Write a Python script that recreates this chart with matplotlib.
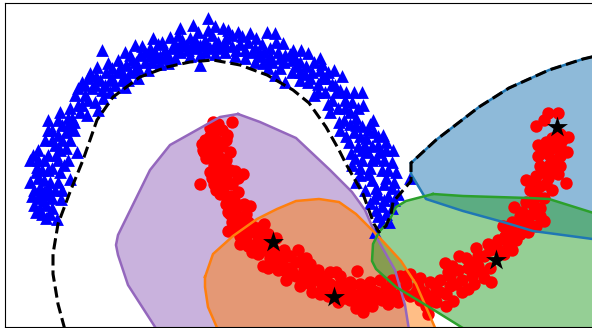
import numpy as np
import matplotlib
matplotlib.use("Agg")
import matplotlib.pyplot as plt

blue_points = [
    (102,50),(60,112),(48,120),(33,155),(77,152),(90,73),(82,82),(97,67),(108,63),(125,52),
    (135,45),(153,38),(170,37),(180,28),(193,25),(208,18),(223,28),(238,32),(250,33),(267,32),
    (275,33),(283,43),(293,50),(200,65),(168,63),(138,78),(125,87),(103,98),(87,115),(70,140),
    (285,82),(263,63),(301,50),(308,53),(320,58),(334,70),(314,95),(354,92),(362,92),(339,122),
    (363,105),(373,120),(383,135),(393,150),(351,153),(349,142),(32,196),(42,214),(57,219),(61,199),
    (70,179),(37,167),(40,187),(43,201),(410,178),(375,232),(389,222),
    (52,130),(62,125),(72,118),(78,105),(70,108),(85,95),(92,88),(100,80),(75,95),(66,132),
    (55,145),(45,140),(38,150),(48,155),(60,150),(68,160),(42,170),(52,168),(30,182),(38,178),
    (50,182),(60,172),(34,205),(48,195),(52,208),(40,210),(46,218),(55,190),(44,160),(58,135),
    (82,105),(95,102),(105,85),(112,78),(118,72),(126,65),(118,60),(132,60),(140,55),(130,72),
    (145,62),(150,48),(158,44),(165,50),(175,44),(182,40),(190,38),(198,32),(205,40),(212,35),
    (218,42),(226,38),(232,46),(240,44),(248,42),(255,48),(262,44),(270,48),(278,52),(285,55),
    (292,60),(300,62),(306,66),(312,72),(320,70),(326,78),(332,84),(340,90),(180,52),(188,50),
    (195,48),(205,52),(215,54),(225,52),(235,56),(245,58),(155,58),(160,64),(175,58),(148,70),
    (255,62),(272,62),(280,68),(292,72),(300,80),(308,82),(318,84),(325,92),(332,100),(338,108),
    (345,100),(350,112),(344,120),(356,118),(362,126),(354,132),(366,138),(374,132),(378,145),(358,146),
    (368,152),(376,158),(386,150),(392,162),(362,160),(352,165),(370,168),(382,170),(396,172),(360,175),
    (372,180),(384,184),(394,182),(365,190),(378,194),(388,196),(398,194),(370,203),(382,206),(392,208),
    (378,216),(386,214),(110,92),(98,110),(124,76),(138,68),(155,52),(260,54),(270,56),(215,26),
    (200,45),(190,56),(232,35),(342,76),(330,112),(346,136),
    (48,130),(58,120),(68,125),(74,130),(62,140),(52,140),(38,160),(58,160),(48,170),(64,165),
    (36,172),(44,180),(58,182),(34,190),(44,192),(52,198),(38,198),(46,205),(36,212),(50,214),
    (30,160),(66,148),(74,122),(80,112),(88,100),(68,118),(78,88),(88,78),(96,76),(106,72),
    (112,68),(102,90),(115,85),(122,80),(130,55),(128,80),(142,46),(136,62),(145,52),(152,62),
    (162,42),(168,55),(172,48),(160,56),(178,35),(186,45),(195,40),(200,55),(208,30),(210,48),
    (220,48),(228,30),(236,50),(242,36),(252,52),(256,38),(264,52),(276,42),(284,62),(290,54),
    (296,66),(268,68),(275,75),(305,74),(314,62),(322,64),(328,72),(336,92),(346,92),(352,102),
    (358,108),(328,104),(340,130),(350,124),(360,136),(370,124),(378,136),(386,142),(372,146),(355,158),
    (365,146),(380,152),(388,170),(356,182),(368,174),(376,188),(392,188),(360,168),(374,198),(384,200),
    (394,200),(386,178),(376,210),(382,222),
    (120,68),(135,70),(150,56),(165,58),(180,46),(192,44),(205,46),(215,44),(225,44),(245,50),
    (258,56),(268,60),(280,58),(295,58),(310,78),(322,78),(300,72),(318,92),(335,85),(345,108),
    (356,125),(368,130),(384,160),(372,160),(362,150),(70,128),(56,155),(62,190),(48,188),(40,195),
    (95,85),(110,80),(85,85),
]

red_points = [
    (213,122),(232,122),(227,135),(230,152),(205,140),(203,150),(214,130),(222,130),(216,140),(208,146),
    (218,148),(212,155),(220,158),(206,158),(214,165),(222,168),(210,172),(218,178),(226,176),(235,171),
    (243,174),(200,184),(214,184),(224,186),(232,184),(220,194),(230,196),(238,192),(226,204),(236,208),
    (230,214),(240,218),(232,222),(250,206),(246,214),(228,231),(238,226),(248,222),(240,236),(250,232),
    (258,228),(264,224),(246,240),(256,244),(268,234),(276,238),(252,252),(264,250),(274,250),(284,250),
    (263,266),(272,262),(282,260),(290,256),(278,270),(288,268),(296,262),(286,280),(296,276),(304,270),
    (312,272),(300,286),(310,284),(318,280),(326,276),(336,272),(312,292),(322,288),(330,284),(340,284),
    (328,296),(338,302),(346,292),(357,271),(350,282),(360,284),(352,294),(362,288),(370,282),(380,280),
    (358,302),(366,298),(376,292),(386,288),(363,312),(356,308),(372,306),(382,300),(392,294),(402,290),
    (392,280),(400,276),(410,274),(388,304),(398,302),(410,296),(418,286),(428,314),(420,300),(430,296),
    (440,292),(420,278),(430,282),(440,280),(450,286),(453,301),(462,292),(468,289),(445,263),(448,272),
    (458,270),(468,268),(459,256),(474,262),(484,256),(472,276),(482,272),(490,268),(491,282),(498,250),
    (476,248),(488,244),(498,240),(508,244),(516,240),(504,254),(512,250),(520,234),(510,232),(503,226),
    (528,232),(536,226),(524,222),(514,207),(522,212),(532,214),(544,221),(540,208),(526,202),(534,198),
    (544,198),(530,190),(540,186),(552,190),(526,180),(536,176),(548,178),(566,183),(558,174),(540,166),
    (550,164),(560,166),(538,156),(548,154),(560,156),(567,152),(538,145),(546,142),(556,144),(568,137),
    (560,134),(536,126),(548,113),(558,113),(544,120),(310,278),(292,272),
    (270,258),(325,282),(344,298),(372,296),(406,284),(436,288),(478,266),(518,224),(534,206),(546,168),
    (210,128),(218,124),(226,140),(210,136),(202,144),(222,146),(208,152),(216,160),(226,160),(204,152),
    (212,178),(220,172),(230,170),(238,178),(216,190),(226,180),(234,200),(226,196),(244,204),(232,206),
    (242,224),(228,212),(236,230),(252,226),(244,232),(258,236),(264,240),(240,244),(248,246),(258,254),
    (268,244),(268,268),(276,258),(284,270),(298,250),(302,260),(306,278),(306,258),(310,264),(318,270),
    (320,294),(330,272),(340,276),(342,296),(334,288),(350,300),(350,288),(358,296),(366,306),(372,290),
    (378,298),(386,296),(398,296),(392,284),(406,276),(416,292),(424,292),(426,306),(436,302),(446,294),
    (446,306),(456,284),(462,280),(450,276),(452,266),(466,258),(478,256),(490,250),(474,284),(484,278),
    (496,244),(505,236),(512,222),(520,216),(516,232),(528,222),(540,216),(536,192),(546,184),(530,182),
    (542,172),(552,172),(556,160),(544,148),(552,148),(560,146),(552,138),(562,140),
]

star_x = [557, 273, 334, 496]
star_y = [127, 242, 297, 260]

purple_x = [238,220,170,150,118,116,118,128,157,409,405,395,378,365,352,330,296,260]
purple_y = [114,117,145,170,235,245,255,285,330,330,305,270,240,210,192,170,138,122]
orange_x = [205,213,233,257,277,296,319,339,356,379,401,416,426,436,218,208,205]
orange_y = [277,254,236,219,209,201,199,202,214,237,261,284,307,330,330,307,287]
green_x = [433,406,396,389,379,373,372,376,396,429,466,600,600,549,529,463]
green_y = [194,201,207,221,232,244,261,269,287,307,330,330,215,199,198,196]
region_blue_x = [411,436,479,509,549,583,600,600,533,503,463,426,411]
region_blue_y = [163,140,107,88,70,59,55,240,231,222,211,199,174]

# decision boundary, bottom left round to the top right
bound_x = [65,58,53,53,58,70,83,97,113,140,167,190,213,240,267,293,309,326,339,346,363,374,379,386,391,393,411,411,436,479,509,549,583,600]
bound_y = [330,304,274,254,224,192,160,120,97,77,67,62,60,65,75,90,103,127,150,164,194,224,232,226,214,202,181,163,140,107,88,70,59,55]

fig = plt.figure(figsize=(5.92, 3.28), dpi=100)
ax = fig.add_axes([4.5 / 592, 1 / 328, 1, 324 / 328])

regions = [
    (purple_x, purple_y, 'tab:purple'),
    (orange_x, orange_y, 'tab:orange'),
    (region_blue_x, region_blue_y, 'tab:blue'),
    (green_x, green_y, 'tab:green'),
]
for xs, ys, color in regions:
    ax.fill(xs, ys, color=color, alpha=0.5, lw=0, zorder=1)
    ax.plot(xs + xs[:1], ys + ys[:1], color=color, lw=1.8, zorder=4)

blue = np.array(blue_points)
red = np.array(red_points)
ax.scatter(blue[:, 0], blue[:, 1], marker='^', s=85, color='blue', lw=0, zorder=2)
ax.scatter(red[:, 0], red[:, 1], marker='o', s=80, color='red', lw=0, zorder=3)
ax.plot(bound_x, bound_y, color='black', ls='--', lw=2.2, zorder=5)
ax.scatter(star_x, star_y, marker='*', s=250, color='black', lw=0, zorder=6)

ax.set_xlim(4.5, 596.5)
ax.set_ylim(327, 3)
ax.set_xticks([])
ax.set_yticks([])

plt.savefig('out.png', dpi=100)
plt.close()
